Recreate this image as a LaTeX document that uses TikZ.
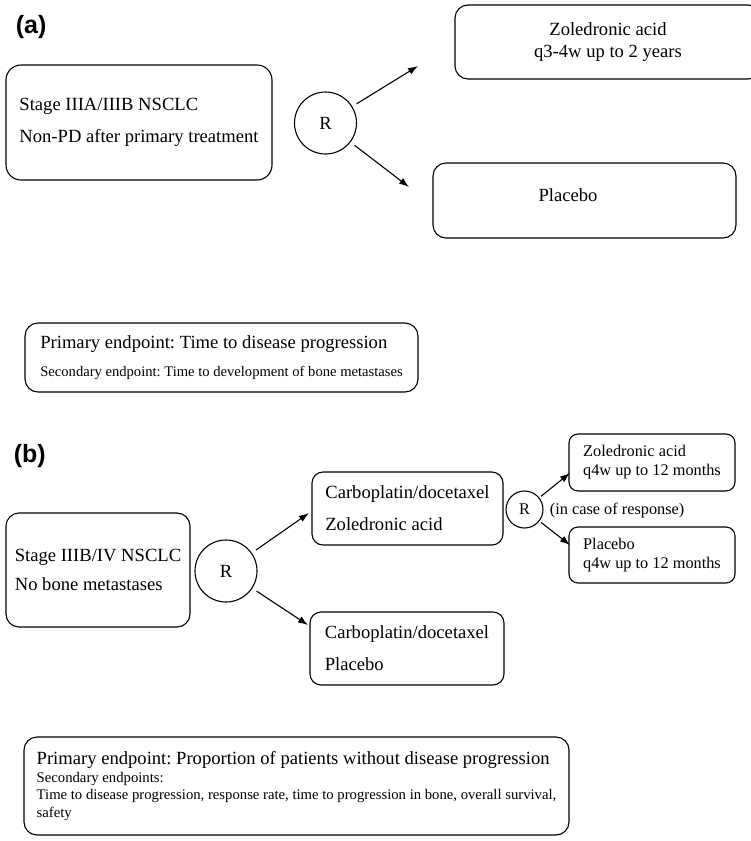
\documentclass[tikz,border=0pt]{standalone}
\usepackage{fontspec}
\setmainfont{Liberation Serif}
\newfontfamily\panelfont{Liberation Sans}
\usetikzlibrary{arrows.meta}
\frenchspacing

\begin{document}
\begin{tikzpicture}[x=1pt, y=-1pt, line width=1.1pt,
    box/.style={draw, rounded corners=13pt, align=left, font=\fontsize{18.6}{32}\selectfont},
    smallbox/.style={draw, rounded corners=9pt, align=left, font=\fontsize{16.3}{19}\selectfont},
    rand/.style={circle, draw, inner sep=0pt, font=\fontsize{18.6}{22}\selectfont},
    panel/.style={anchor=base west, font=\panelfont\bfseries\fontsize{25}{30}\selectfont},
    arr/.style={-{Latex[length=10pt, width=7pt]}, shorten <=5pt}]
    \useasboundingbox (0,0) rectangle (751,841);

    % (a)
    \node[panel] (panelA) at (12,33) {(a)};
    \node[box, minimum width=266, minimum height=115, rounded corners=15pt] (stageA) at (139,122.5) {Stage IIIA/IIIB NSCLC\\Non-PD after primary treatment};
    \node[rand, minimum size=62] (randA) at (325.5,123) {R};
    \node[box, align=center, minimum width=306, minimum height=74, font=\fontsize{18.6}{22}\selectfont] (zolA) at (608,42) {Zoledronic acid\\q3-4w up to 2 years};
    \node[box, minimum width=303, minimum height=75] (placeboA) at (584.5,200.5) {};
    \node[font=\fontsize{18.6}{22}\selectfont] (placeboAtext) at (568,195) {Placebo};
    \coordinate (tipA1) at (418,66);
    \coordinate (tipA2) at (409,187);
    \draw[arr] (randA) -- (tipA1);
    \draw[arr] (randA) -- (tipA2);
    \node[box, minimum width=393, minimum height=69, font=\fontsize{14.6}{28}\selectfont] (endA) at (221.5,357.5) {{\fontsize{18.6}{28}\selectfont Primary endpoint: Time to disease progression}\\Secondary endpoint: Time to development of bone metastases};

    % (b)
    \node[panel] (panelB) at (10,462) {(b)};
    \node[box, minimum width=184, minimum height=114, font=\fontsize{18.6}{29}\selectfont] (stageB) at (98,570) {Stage IIIB/IV NSCLC\\No bone metastases};
    \node[rand, minimum size=62] (randB) at (226,571) {R};
    \node[box, minimum width=191, minimum height=73, rounded corners=11pt] (carboZol) at (407.5,508.5) {Carboplatin/docetaxel\\Zoledronic acid};
    \node[box, minimum width=194, minimum height=73, rounded corners=11pt] (carboPla) at (407,648.5) {Carboplatin/docetaxel\\Placebo};
    \node[rand, minimum size=37, font=\fontsize{16.3}{19}\selectfont] (randB2) at (524.5,509.5) {R};
    \node[anchor=base west, font=\fontsize{16.3}{19}\selectfont] (response) at (546,514) {(in case of response)};
    \node[smallbox, minimum width=166, minimum height=57] (zolB) at (652,462.5) {Zoledronic acid\\q4w up to 12 months};
    \node[smallbox, minimum width=166, minimum height=56] (placeboB) at (652,555) {Placebo\\q4w up to 12 months};
    \coordinate (tipB1) at (309,513);
    \coordinate (tipB2) at (308,625);
    \coordinate (tipB3) at (570,473);
    \coordinate (tipB4) at (570,545);
    \draw[arr] (randB) -- (tipB1);
    \draw[arr] (randB) -- (tipB2);
    \draw[arr, shorten <=2pt] (randB2) -- (tipB3);
    \draw[arr, shorten <=2pt] (randB2) -- (tipB4);
    \node[box, minimum width=545, minimum height=98, font=\fontsize{14.7}{17.5}\selectfont] (endB) at (296.5,786) {{\fontsize{18.6}{17.5}\selectfont Primary endpoint: Proportion of patients without disease progression}\\Secondary endpoints:\\Time to disease progression, response rate, time to progression in bone, overall survival,\\safety};
\end{tikzpicture}
\end{document}
